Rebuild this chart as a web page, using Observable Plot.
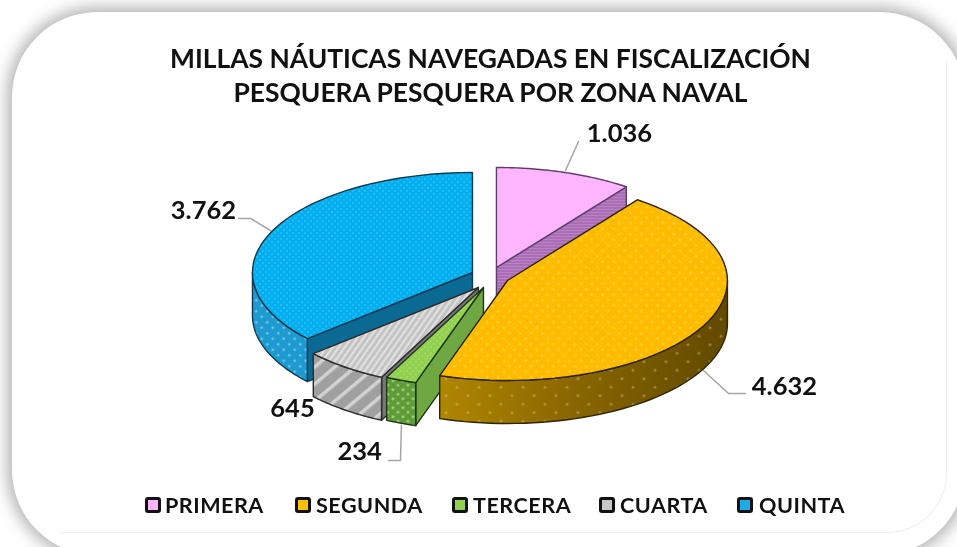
<!DOCTYPE html>
<html lang="es">
<head>
<meta charset="utf-8">
<script src="https://cdn.jsdelivr.net/npm/d3@7"></script>
<script src="https://cdn.jsdelivr.net/npm/@observablehq/plot@0.6"></script>
<style>
html,body{margin:0;padding:0;width:957px;height:547px;overflow:hidden;background:#fff;}
#stage{position:relative;width:957px;height:547px;overflow:hidden;font-family:Lato,sans-serif;color:#111;filter:blur(.5px);}
#card{position:absolute;left:12px;top:12px;width:953px;height:543px;border-radius:85px;background:#fff;box-shadow:0 0 16px 5px rgba(0,0,0,.3);}
#inner{position:absolute;left:60px;top:60px;width:886px;height:472px;border-right:1.5px solid #eee;border-bottom:1.5px solid #eee;border-bottom-right-radius:60px;}
#plot{position:absolute;left:0;top:0;}
#title{position:absolute;left:0;top:41px;width:981px;text-align:center;font-weight:700;font-size:26.4px;line-height:34px;color:#111;}
#legend{position:absolute;left:0;top:0;width:957px;height:547px;}
.sw{position:absolute;top:497px;width:10px;height:10px;border:3.5px solid #111;border-radius:3px;}
.lb{position:absolute;top:491px;font-weight:700;font-size:21.6px;line-height:28px;letter-spacing:.5px;white-space:nowrap;}
</style>
</head>
<body>
<div id="stage">
  <div id="card"></div>
  <div id="inner"></div>
  <div id="plot"></div>
  <div id="title">MILLAS NÁUTICAS NAVEGADAS EN FISCALIZACIÓN<br>PESQUERA PESQUERA POR ZONA NAVAL</div>
  <div id="legend"></div>
</div>
<script>
// Data
const zones = ["PRIMERA", "SEGUNDA", "TERCERA", "CUARTA", "QUINTA"];
const miles = [1036, 4632, 234, 645, 3762];
const valueLabels = ["1.036", "4.632", "234", "645", "3.762"];

// Pie layout, in pie units (radius 1, y upward)
const explodeX = [0.027, 0.077, -0.032, -0.055, -0.082];
const explodeY = [0.11, -0.02, -0.09, -0.09, 0.06];
const depth = 0.43;
const labelX = [0.586, 1.336, -0.595, -0.9, -1.305];
const labelY = [1.45, -1.08, -1.73, -1.3, 0.68];
const leaders = [
  [[0.341, 1.08], [0.4, 1.37]],
  [[0.968, -0.92], [1.082, -1.15], [1.159, -1.15]],
  [[-0.405, -1.47], [-0.409, -1.82], [-0.464, -1.82]],
  [],
  [[-1, 0.48], [-1.09, 0.6], [-1.145, 0.6]]
];

// Styles
const topFill = ["url(#pTopPink)", "url(#pTopGold)", "url(#pTopGreen)", "url(#pTopGrey)", "url(#pTopBlue)"];
const rimFill = [null, "url(#gGold)", "url(#pRimGreen)", "url(#pRimGrey)", "url(#pRimBlue)"];
const rimOverlay = [null, "url(#pRimGoldDots)", null, null, null];
const radialFill = ["url(#pRadPink)", null, "#6fa843", "#777", "#0b6a93"];
const edge = ["#5e3f6c", "#2f2404", "#1f3614", "#2b2b2b", "#0f3a50"];
const swatch = ["#ffb3ff", "#ffc000", "#92d050", "#c8c8c8", "#1fa9e8"];
const swatchX = [145, 295, 452, 599, 737];
const labelLeft = [165, 316, 473, 620, 759];

// Slices in degrees clockwise from the top
const total = d3.sum(miles);
let acc = 0;
const slices = miles.map((v, i) => {
  const a = acc; acc += v / total * 360;
  return {i, a, b: acc, cx: explodeX[i], cy: explodeY[i]};
});
const rad = d => d * Math.PI / 180;
const pt = (s, t, drop = 0) => ({x: s.cx + Math.sin(rad(t)), y: s.cy + Math.cos(rad(t)) - drop});
const arc = (s, a, b, drop = 0) => d3.range(0, 49).map(k => pt(s, a + (b - a) * k / 48, drop));
const closed = p => [...p, p[0]];
const topFace = s => closed([{x: s.cx, y: s.cy}, ...arc(s, s.a, s.b)]);
const radial = (s, t) => closed([{x: s.cx, y: s.cy}, pt(s, t), pt(s, t, depth), {x: s.cx, y: s.cy - depth}]);
const rim = (s, a, b) => closed([...arc(s, a, b), ...arc(s, a, b, depth).reverse()]);
const face = (pts, fill, stroke, sw = 1.4) =>
  Plot.line(pts, {x: "x", y: "y", fill, stroke, strokeWidth: sw, strokeLinejoin: "round", curve: "linear"});

const marks = [];
const [P, S, T, C, Q] = slices;
// Painter's order, back to front
marks.push(face(radial(P, P.b), radialFill[0], edge[0]), face(topFace(P), topFill[0], edge[0]));
marks.push(face(radial(Q, Q.a), radialFill[4], edge[4]), face(rim(Q, Q.a, 270), rimFill[4], edge[4]), face(topFace(Q), topFill[4], edge[4]));
marks.push(face(radial(C, C.a), radialFill[3], edge[3]), face(rim(C, C.a, C.b), rimFill[3], edge[3]), face(topFace(C), topFill[3], edge[3]));
marks.push(face(radial(T, T.a), radialFill[2], edge[2]), face(rim(T, T.a, T.b), rimFill[2], edge[2]), face(topFace(T), topFill[2], edge[2]));
marks.push(face(rim(S, 90, S.b), rimFill[1], "none"), face(rim(S, 90, S.b), rimOverlay[1], edge[1]), face(topFace(S), topFill[1], edge[1]));
// Leaders and value labels
leaders.forEach(l => { if (l.length) marks.push(Plot.line(l.map(([x, y]) => ({x, y})), {x: "x", y: "y", stroke: "#a6a6a6", strokeWidth: 1.5, curve: "linear"})); });
marks.push(Plot.text(valueLabels.map((t, i) => ({t, x: labelX[i], y: labelY[i]})), {
  x: "x", y: "y", text: "t", fontSize: 25.5, fontWeight: 700, fontFamily: "Lato, sans-serif", fill: "#111", textAnchor: "middle", lineAnchor: "middle"
}));

const chart = Plot.plot({
  width: 957, height: 547, margin: 0,
  style: {background: "transparent", overflow: "visible"},
  x: {domain: [-1, 1], range: [270, 710], axis: null},
  y: {domain: [1, -1], range: [178, 378], axis: null},
  marks
});

const dot = (id, w, h, bg, c, r, off = true) => `<pattern id="${id}" width="${w}" height="${h}" patternUnits="userSpaceOnUse">
  <rect width="${w}" height="${h}" fill="${bg}"/>
  <circle cx="${w/4}" cy="${h/4}" r="${r}" fill="${c}"/>
  ${off ? `<circle cx="${3*w/4}" cy="${3*h/4}" r="${r}" fill="${c}"/>` : ""}
</pattern>`;
const stripe = (id, s, bg, c, sw, angle) => `<pattern id="${id}" width="${s}" height="${s}" patternUnits="userSpaceOnUse" patternTransform="rotate(${angle})">
  <rect width="${s}" height="${s}" fill="${bg}"/><rect width="${sw}" height="${s}" fill="${c}"/>
</pattern>`;
chart.insertAdjacentHTML("afterbegin", `<defs>
  ${dot("pTopPink", 4, 4, "#ffb3ff", "#ffc4ff", .7)}
  ${dot("pTopGold", 11, 11, "#ffbb00", "#ffdf55", 1.1)}
  ${dot("pTopGreen", 6, 6, "#92d050", "#b4e483", .8)}
  ${dot("pTopBlue", 6, 6, "#00aeef", "#66d3fa", .8)}
  ${dot("pRimBlue", 11, 11, "#1d9bd0", "#a6def2", 1.1)}
  ${dot("pRimGreen", 10, 9, "#5f9c37", "#b6dc9b", 1.2)}
  ${dot("pRimGoldDots", 22, 17, "transparent", "rgba(225,215,170,.5)", 1.2)}
  ${stripe("pTopGrey", 5, "#c4c4c4", "#e4e4e4", 1.8, 35)}
  ${stripe("pRimGrey", 13, "#a0a0a0", "#d2d2d2", 3.5, 50)}
  ${stripe("pRadPink", 3, "#bd80c7", "#955ea1", 1, 90)}
  <linearGradient id="gGold" x1="0" x2="1" y1="0" y2="0">
    <stop offset="0" stop-color="#b08600"/><stop offset=".45" stop-color="#8a6700"/><stop offset="1" stop-color="#614900"/>
  </linearGradient>
</defs>`);
document.getElementById("plot").append(chart);

const legend = document.getElementById("legend");
zones.forEach((z, i) => {
  const s = document.createElement("div");
  s.className = "sw"; s.style.left = swatchX[i] + "px"; s.style.background = swatch[i];
  const l = document.createElement("div");
  l.className = "lb"; l.style.left = labelLeft[i] + "px"; l.textContent = z;
  legend.append(s, l);
});
</script>
</body>
</html>
